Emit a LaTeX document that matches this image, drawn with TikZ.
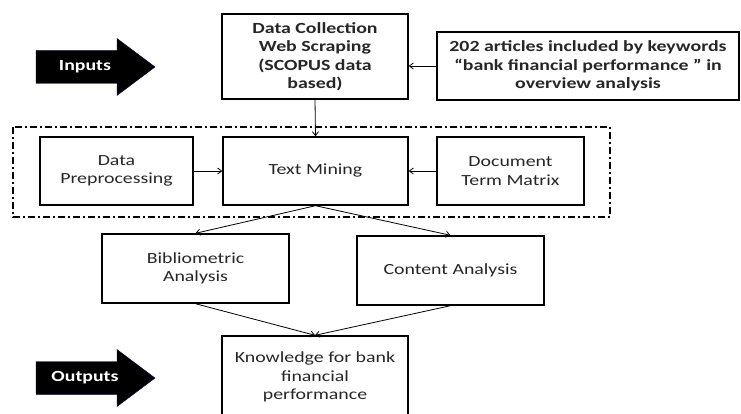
\documentclass[tikz,border=0pt]{standalone}
\usepackage{fontspec}
\setmainfont{Carlito}[FakeStretch=1.28]
\usetikzlibrary{arrows.meta}

\tikzset{
  stagebox/.style={draw, line width=1.4pt, align=center, inner sep=2pt,
    text=black!85, font=\fontsize{15.5}{18.5}\selectfont},
  flow/.style={-{Straight Barb[length=4pt,width=6pt]}, line width=0.8pt},
  bigarrow/.style={fill=black, draw=black!70!blue},
  arrowtext/.style={text=white, font=\fontsize{15.5}{18.5}\selectfont\bfseries}
}

\begin{document}
\begin{tikzpicture}[x=1pt,y=1pt]
  \useasboundingbox (0,0) rectangle (741,-414);
  \clip (0,0) rectangle (741,-414);
  % stage boxes
  \node[stagebox, minimum width=186pt, minimum height=85pt, font=\fontsize{15.5}{18.5}\selectfont\bfseries]
    (collect) at (315,-56.5) {Data Collection\\Web Scraping\\(SCOPUS data\\based)};
  \node[stagebox, minimum width=302pt, minimum height=68pt, font=\fontsize{15.5}{18.5}\selectfont\bfseries]
    (articles) at (588,-66) {202 articles included by keywords\\``bank financial performance '' in\\overview analysis};
  \node[stagebox, minimum width=153pt, minimum height=68pt] (prep) at (116.5,-171) {Data\\Preprocessing};
  \node[stagebox, minimum width=185pt, minimum height=68pt] (mining) at (315.5,-171) {Text Mining};
  \node[stagebox, minimum width=147pt, minimum height=68pt] (dtm) at (510.5,-171) {Document\\Term Matrix};
  \node[stagebox, minimum width=187pt, minimum height=69pt] (biblio) at (195.5,-268.5) {Bibliometric\\Analysis};
  \node[stagebox, minimum width=187pt, minimum height=69pt] (content) at (450.5,-270.5) {Content Analysis};
  \node[stagebox, minimum width=186pt, minimum height=100pt, text depth=20pt] (knowledge) at (315,-386)
    {Knowledge for bank\\financial\\performance};
  % text mining frame
  \draw[line width=1.6pt, dash pattern=on 7pt off 3pt on 2pt off 3pt] (13,-127) rectangle (610,-217);
  % input / output arrows
  \foreach \name/\yc/\label in {inputs/-67/Inputs, outputs/-378/Outputs}{
    \filldraw[bigarrow] (36,\yc+16.5) -- (117,\yc+16.5) -- (117,\yc+28.5) -- (155,\yc)
      -- (117,\yc-28.5) -- (117,\yc-16.5) -- (36,\yc-16.5) -- cycle;
    \node[arrowtext] (\name) at (85,\yc) {\label};
  }
  % connectors
  \draw[flow] (articles.west) -- (collect.east |- articles.west);
  \draw[flow] (collect.south) -- (mining.north);
  \draw[flow] (prep) -- (mining);
  \draw[flow] (dtm) -- (mining);
  \draw[flow] (mining.south) -- (biblio.north);
  \draw[flow] (mining.south) -- (content.north);
  \draw[flow] (biblio.south) -- (knowledge.north);
  \draw[flow] (content.south) -- (knowledge.north);
\end{tikzpicture}
\end{document}
